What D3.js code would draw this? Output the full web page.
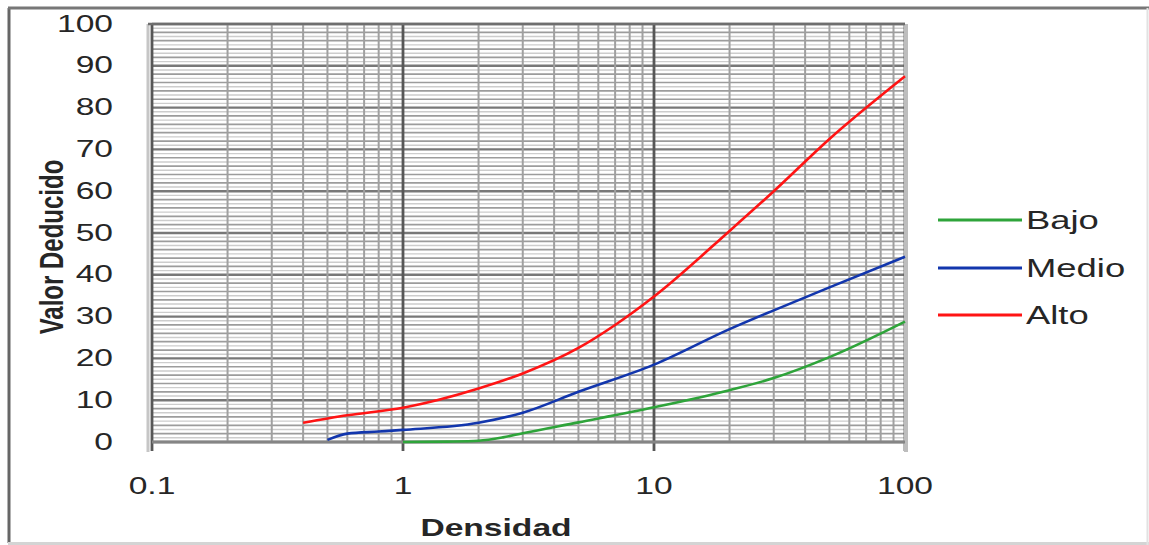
<!DOCTYPE html>
<html>
<head>
<meta charset="utf-8">
<script src="https://cdn.jsdelivr.net/npm/d3@7"></script>
<style>
  html, body { margin: 0; padding: 0; background: #fff; }
  svg { display: block; font-family: "Liberation Sans", Arial, sans-serif; }
</style>
</head>
<body>
<svg id="chart" width="1149" height="545"></svg>
<script>
// axis ticks
const xTicks = [0.1, 1, 10, 100];
const xTickLabels = ['0.1', '1', '10', '100'];
const yTicks = [0, 10, 20, 30, 40, 50, 60, 70, 80, 90, 100];

// series
const seriesNames = ['Bajo', 'Medio', 'Alto'];
const seriesColors = ['#2ea43a', '#1236ad', '#ff1414'];

const bajoDensidad = [1, 1.5, 2, 2.5, 3, 5, 10, 20, 30, 50, 100];
const bajoValor    = [0, 0.1, 0.3, 1.1, 2.1, 4.7, 8.3, 12.4, 15.3, 20.3, 28.8];

const medioDensidad = [0.5, 0.6, 0.8, 1, 2, 3, 5, 10, 20, 30, 50, 100];
const medioValor    = [0.5, 2.0, 2.5, 2.9, 4.6, 7.0, 12.0, 18.5, 27.0, 31.5, 37.0, 44.3];

const altoDensidad = [0.4, 0.6, 1, 2, 3, 5, 7, 10, 20, 30, 50, 100];
const altoValor    = [4.6, 6.4, 8.2, 12.8, 16.4, 22.5, 28.0, 34.8, 50.5, 60.0, 72.5, 87.5];

const series = [
  { name: seriesNames[0], color: seriesColors[0], xs: bajoDensidad, ys: bajoValor },
  { name: seriesNames[1], color: seriesColors[1], xs: medioDensidad, ys: medioValor },
  { name: seriesNames[2], color: seriesColors[2], xs: altoDensidad, ys: altoValor }
];

const svg = d3.select('#chart');
const SX = 1.4; // the picture is stretched horizontally

const x = d3.scaleLog().domain([0.1, 100]).range([152, 905]);
const y = d3.scaleLinear().domain([0, 100]).range([442, 24]);

// outer frame
svg.append('line').attr('x1', 9).attr('x2', 9).attr('y1', 8).attr('y2', 543)
  .attr('stroke', '#666').attr('stroke-width', 3);
svg.append('line').attr('x1', 8).attr('x2', 1149).attr('y1', 8).attr('y2', 8)
  .attr('stroke', '#777').attr('stroke-width', 3);
svg.append('line').attr('x1', 8).attr('x2', 1149).attr('y1', 543.5).attr('y2', 543.5)
  .attr('stroke', '#d4d4d4').attr('stroke-width', 3);
svg.append('line').attr('x1', 1147.5).attr('x2', 1147.5).attr('y1', 8).attr('y2', 545)
  .attr('stroke', '#e2e2e2').attr('stroke-width', 2);

const grid = svg.append('g');
const [x0, x1] = x.range();
const [yb, yt] = y.range();

// horizontal grid: every 1 light, every 2 medium, every 10 dark
d3.range(0, 101, 1).forEach(v => {
  const major = v % 10 === 0, mid = v % 2 === 0;
  grid.append('line')
    .attr('x1', x0).attr('x2', x1).attr('y1', y(v)).attr('y2', y(v))
    .attr('stroke', major ? '#787878' : mid ? '#9c9c9c' : '#cdcdcd')
    .attr('stroke-width', major ? 2.4 : mid ? 1.7 : 1.4);
});

// vertical grid: minors 2..9 per decade, decades dark
const minorX = [];
[0.1, 1, 10].forEach(d => { for (let k = 2; k <= 9; k++) minorX.push(d * k); });
minorX.forEach(v => {
  grid.append('line')
    .attr('x1', x(v)).attr('x2', x(v)).attr('y1', yt).attr('y2', yb)
    .attr('stroke', '#a0a0a0').attr('stroke-width', 2);
});
xTicks.forEach(v => {
  grid.append('line')
    .attr('x1', x(v)).attr('x2', x(v)).attr('y1', yt).attr('y2', yb + 9)
    .attr('stroke', '#575757').attr('stroke-width', 2.8);
});

// plot frame
grid.append('line').attr('x1', x0 - 4).attr('x2', x0 - 4).attr('y1', yt).attr('y2', yb + 10)
  .attr('stroke', '#c6c6c6').attr('stroke-width', 3);
grid.append('line').attr('x1', x1 + 1).attr('x2', x1 + 1).attr('y1', yt).attr('y2', yb + 10)
  .attr('stroke', '#bdbdbd').attr('stroke-width', 4);
grid.append('line').attr('x1', x0 - 4).attr('x2', x1).attr('y1', yt).attr('y2', yt)
  .attr('stroke', '#6e6e6e').attr('stroke-width', 2.5);
grid.append('line').attr('x1', x0).attr('x2', x1).attr('y1', yb).attr('y2', yb)
  .attr('stroke', '#858585').attr('stroke-width', 3);

// curves
const line = d3.line()
  .x(d => x(d[0]))
  .y(d => y(d[1]))
  .curve(d3.curveMonotoneX);

series.forEach(s => {
  svg.append('path')
    .datum(d3.zip(s.xs, s.ys))
    .attr('fill', 'none')
    .attr('stroke', s.color)
    .attr('stroke-width', 2.6)
    .attr('stroke-linejoin', 'round')
    .attr('d', line);
});

// text helper: stretched horizontally like the source picture
function label(px, py, txt, size, weight, anchor, rot) {
  svg.append('text')
    .attr('transform', `translate(${px},${py}) scale(${SX},1)` + (rot ? ` rotate(${rot})` : ''))
    .attr('text-anchor', anchor)
    .attr('dy', '0.36em')
    .attr('font-size', size)
    .attr('font-weight', weight)
    .attr('fill', '#262626')
    .text(txt);
}

yTicks.forEach(v => label(113, y(v) - 1, String(v), 24, 'normal', 'end'));
xTicks.forEach((v, i) => label(x(v), 485, xTickLabels[i], 24, 'normal', 'middle'));

label(496, 527, 'Densidad', 24, 'bold', 'middle');
label(51, 247, 'Valor Deducido', 24, 'bold', 'middle', -90);

// legend
const legY = [220, 268, 315];
series.forEach((s, i) => {
  svg.append('line')
    .attr('x1', 938).attr('x2', 1022)
    .attr('y1', legY[i]).attr('y2', legY[i])
    .attr('stroke', s.color).attr('stroke-width', 3);
  label(1026, legY[i], s.name, 26, 'normal', 'start');
});
</script>
</body>
</html>
